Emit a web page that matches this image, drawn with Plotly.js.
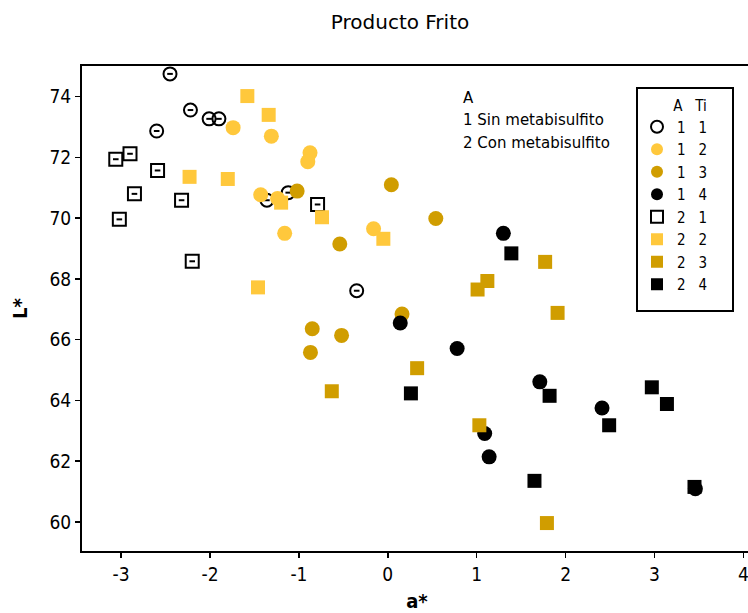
<!DOCTYPE html>
<html>
<head>
<meta charset="utf-8">
<script src="https://cdn.plot.ly/plotly-3.0.1.min.js"></script>
<style>
  html, body { margin: 0; padding: 0; overflow: hidden; background: #fff; }
  #chart { width: 762px; height: 613px; }
</style>
</head>
<body>
<div id="chart"></div>
<script>
// Producto Frito: a* vs L*, grouped by A (metabisulfito) and Ti
const a11 = [-2.45, -2.22, -2.01, -1.90, -2.60, -1.36, -1.12, -0.35];
const L11 = [74.75, 73.56, 73.27, 73.27, 72.87, 70.59, 70.84, 67.61];

const a12 = [-1.74, -1.31, -0.875, -0.90, -1.43, -1.24, -1.16, -0.16];
const L12 = [72.98, 72.70, 72.15, 71.86, 70.77, 70.65, 69.50, 69.65];

const a13 = [-1.02, 0.04, 0.54, -0.54, 0.16, -0.85, -0.52, -0.87];
const L13 = [70.89, 71.10, 69.99, 69.15, 66.84, 66.36, 66.14, 65.58];

const a14 = [0.14, 0.78, 1.30, 1.71, 2.41, 1.09, 1.14, 3.46];
const L14 = [66.55, 65.71, 69.50, 64.61, 63.75, 62.91, 62.14, 61.09];

const a21 = [-3.06, -2.90, -2.59, -2.85, -2.32, -3.02, -2.20, -0.79];
const L21 = [71.94, 72.12, 71.57, 70.80, 70.59, 69.96, 68.58, 70.45];

const a22 = [-1.58, -1.34, -2.23, -1.80, -1.20, -0.74, -0.05, -1.46];
const L22 = [74.02, 73.40, 71.36, 71.29, 70.51, 70.03, 69.32, 67.72];

const a23 = [-0.63, 0.33, 1.01, 1.12, 1.77, 1.91, 1.03, 1.79];
const L23 = [64.30, 65.06, 67.65, 67.93, 68.56, 66.88, 63.18, 59.96];

const a24 = [1.39, 1.82, 2.97, 3.14, 2.49, 1.65, 3.45, 0.26];
const L24 = [68.84, 64.15, 64.43, 63.88, 63.18, 61.35, 61.15, 64.23];

const groupNames = ["1\u00a0\u00a0\u00a01", "1\u00a0\u00a0\u00a02", "1\u00a0\u00a0\u00a03", "1\u00a0\u00a0\u00a04",
                    "2\u00a0\u00a0\u00a01", "2\u00a0\u00a0\u00a02", "2\u00a0\u00a0\u00a03", "2\u00a0\u00a0\u00a04"];
const legendTitle = "\u00a0\u00a0\u00a0\u00a0\u00a0\u00a0\u00a0A\u00a0\u00a0\u00a0Ti";
const noteLines = ["A", "1 Sin metabisulfito", "2 Con metabisulfito"];
const chartTitle = "Producto Frito";
const xTitle = "a*";
const yTitle = "L*";
const xTicks = [-3, -2, -1, 0, 1, 2, 3, 4];
const yTicks = [60, 62, 64, 66, 68, 70, 72, 74];

const LIGHT = "#FFC83C";
const GOLD = "#D09D00";
const BLACK = "#000000";
const FONT = "DejaVu Sans Condensed, DejaVu Sans, sans-serif";
const FONT_W = "DejaVu Sans, sans-serif";

function filled(x, y, name, symbol, color, size) {
  return {
    type: "scatter", mode: "markers", x: x, y: y, name: name,
    marker: { symbol: symbol, size: size, color: color, line: { width: 0 } },
    hoverinfo: "x+y"
  };
}
function openMarker(x, y, name, symbol) {
  return {
    type: "scatter", mode: "markers", x: x, y: y, name: name,
    marker: { symbol: symbol, size: 13, color: BLACK, line: { width: 2, color: BLACK } }
  };
}
function dash(x, y) {
  return {
    type: "scatter", mode: "markers", x: x, y: y, showlegend: false, hoverinfo: "skip",
    marker: { symbol: "line-ew", size: 4, line: { width: 2, color: BLACK } }
  };
}

const traces = [
  openMarker(a11, L11, groupNames[0], "circle-open"),
  dash(a11, L11),
  filled(a12, L12, groupNames[1], "circle", LIGHT, 15),
  filled(a13, L13, groupNames[2], "circle", GOLD, 15),
  filled(a14, L14, groupNames[3], "circle", BLACK, 15),
  openMarker(a21, L21, groupNames[4], "square-open"),
  dash(a21, L21),
  filled(a22, L22, groupNames[5], "square", LIGHT, 14),
  filled(a23, L23, groupNames[6], "square", GOLD, 14),
  filled(a24, L24, groupNames[7], "square", BLACK, 14)
];

const plotL = 82, plotR = 752, plotT = 66, plotB = 551;
const W = 762, H = 613;
const pw = plotR - plotL, ph = plotB - plotT;
function px2paperX(p) { return (p - plotL) / pw; }
function px2paperY(p) { return (plotB - p) / ph; }

const annotations = noteLines.map((t, i) => ({
  text: t, xref: "paper", yref: "paper",
  x: px2paperX(461), y: px2paperY([98, 120, 143][i]),
  xanchor: "left", yanchor: "middle", showarrow: false,
  font: { family: FONT_W, size: 15, color: "#000" }
}));

const layout = {
  width: W, height: H,
  margin: { l: plotL, r: W - plotR, t: plotT, b: H - plotB, pad: 0 },
  paper_bgcolor: "#fff", plot_bgcolor: "#fff",
  font: { family: FONT, color: "#000" },
  title: {
    text: chartTitle, font: { family: FONT_W, size: 20, color: "#000" },
    xref: "container", yref: "container", x: 400 / W, y: 1 - 22 / H,
    xanchor: "center", yanchor: "middle"
  },
  xaxis: {
    range: [-3.44, 4.097], tickvals: xTicks, ticktext: xTicks.map(String),
    showgrid: false, zeroline: false, showline: true, mirror: true,
    linecolor: "#000", linewidth: 2, ticks: "outside", ticklen: 5, tickwidth: 1.5, tickcolor: "#000",
    tickfont: { family: FONT, size: 19, color: "#000" },
    title: { text: "<b>" + xTitle + "</b>", font: { family: FONT, size: 20, color: "#000" }, standoff: 10 }
  },
  yaxis: {
    range: [59.04, 75.01], tickvals: yTicks, ticktext: yTicks.map(String),
    showgrid: false, zeroline: false, showline: true, mirror: true,
    linecolor: "#000", linewidth: 2, ticks: "outside", ticklen: 5, tickwidth: 1.5, tickcolor: "#000",
    tickfont: { family: FONT, size: 19, color: "#000" },
    title: { text: "<b>" + yTitle + "</b>", font: { family: FONT, size: 20, color: "#000" }, standoff: 16 }
  },
  legend: {
    x: px2paperX(637), y: px2paperY(91), xanchor: "left", yanchor: "top",
    borderwidth: 0, bgcolor: "rgba(0,0,0,0)",
    font: { family: FONT, size: 15, color: "#000" },
    title: { text: legendTitle, font: { family: FONT, size: 15, color: "#000" }, side: "top center" },
    itemsizing: "constant", tracegroupgap: 0
  },
  shapes: [{
    type: "rect", xref: "paper", yref: "paper",
    x0: px2paperX(637), x1: px2paperX(733), y0: px2paperY(88), y1: px2paperY(311),
    line: { color: "#000", width: 2 }, fillcolor: "rgba(0,0,0,0)", layer: "above"
  }],
  annotations: annotations,
  showlegend: true
};

Plotly.newPlot("chart", traces, layout, { displayModeBar: false, staticPlot: true });
</script>
</body>
</html>
